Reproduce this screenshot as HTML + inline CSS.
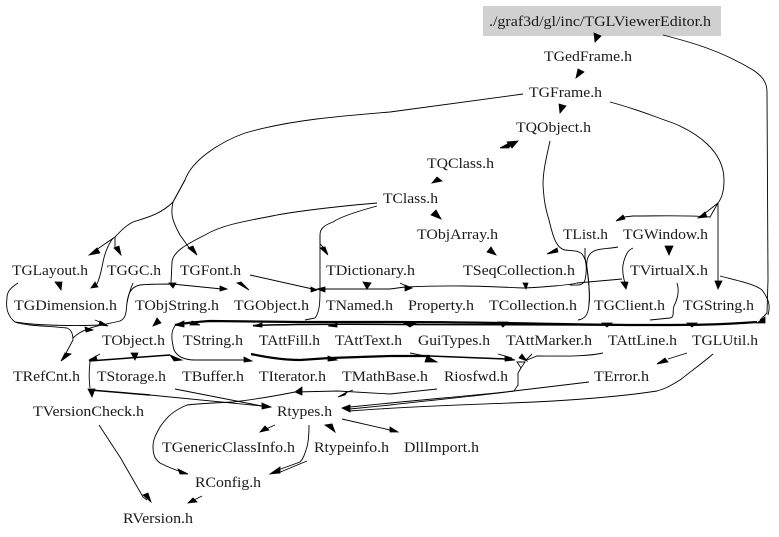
<!DOCTYPE html>
<html><head><meta charset="utf-8"><style>
html,body{margin:0;padding:0;background:#fff;overflow:hidden}
svg{display:block}
text{font-family:"Liberation Serif",serif;font-size:14.5px;fill:#1a1a1a}
path{fill:none;stroke:#000;stroke-width:.9}
path.t{stroke-width:2.2}
path.m{stroke-width:1.5}
polygon{fill:#000;stroke:#000;stroke-width:.8}
</style></head><body>
<svg width="779" height="537" viewBox="0 0 779 537" xmlns="http://www.w3.org/2000/svg">
<rect width="779" height="537" fill="#fff"/>
<rect x="483" y="6" width="238" height="30" fill="#d0d0d0"/>
<g>
<text x="489" y="26" textLength="222" lengthAdjust="spacingAndGlyphs">./graf3d/gl/inc/TGLViewerEditor.h</text>
<text x="544" y="61" textLength="88" lengthAdjust="spacingAndGlyphs">TGedFrame.h</text>
<text x="529" y="97" textLength="73" lengthAdjust="spacingAndGlyphs">TGFrame.h</text>
<text x="516" y="132" textLength="75" lengthAdjust="spacingAndGlyphs">TQObject.h</text>
<text x="427" y="168" textLength="67" lengthAdjust="spacingAndGlyphs">TQClass.h</text>
<text x="383" y="203" textLength="55" lengthAdjust="spacingAndGlyphs">TClass.h</text>
<text x="417" y="239" textLength="81" lengthAdjust="spacingAndGlyphs">TObjArray.h</text>
<text x="563" y="239" textLength="45" lengthAdjust="spacingAndGlyphs">TList.h</text>
<text x="623" y="239" textLength="85" lengthAdjust="spacingAndGlyphs">TGWindow.h</text>
<text x="12" y="275" textLength="76" lengthAdjust="spacingAndGlyphs">TGLayout.h</text>
<text x="107" y="275" textLength="54" lengthAdjust="spacingAndGlyphs">TGGC.h</text>
<text x="180" y="275" textLength="61" lengthAdjust="spacingAndGlyphs">TGFont.h</text>
<text x="326" y="275" textLength="89" lengthAdjust="spacingAndGlyphs">TDictionary.h</text>
<text x="463" y="275" textLength="112" lengthAdjust="spacingAndGlyphs">TSeqCollection.h</text>
<text x="630" y="275" textLength="78" lengthAdjust="spacingAndGlyphs">TVirtualX.h</text>
<text x="14" y="310" textLength="103" lengthAdjust="spacingAndGlyphs">TGDimension.h</text>
<text x="135" y="310" textLength="84" lengthAdjust="spacingAndGlyphs">TObjString.h</text>
<text x="234" y="310" textLength="75" lengthAdjust="spacingAndGlyphs">TGObject.h</text>
<text x="326" y="310" textLength="67" lengthAdjust="spacingAndGlyphs">TNamed.h</text>
<text x="408" y="310" textLength="66" lengthAdjust="spacingAndGlyphs">Property.h</text>
<text x="489" y="310" textLength="88" lengthAdjust="spacingAndGlyphs">TCollection.h</text>
<text x="594" y="310" textLength="71" lengthAdjust="spacingAndGlyphs">TGClient.h</text>
<text x="683" y="310" textLength="71" lengthAdjust="spacingAndGlyphs">TGString.h</text>
<text x="102" y="345" textLength="63" lengthAdjust="spacingAndGlyphs">TObject.h</text>
<text x="183" y="345" textLength="60" lengthAdjust="spacingAndGlyphs">TString.h</text>
<text x="259" y="345" textLength="61" lengthAdjust="spacingAndGlyphs">TAttFill.h</text>
<text x="335" y="345" textLength="67" lengthAdjust="spacingAndGlyphs">TAttText.h</text>
<text x="418" y="345" textLength="72" lengthAdjust="spacingAndGlyphs">GuiTypes.h</text>
<text x="506" y="345" textLength="86" lengthAdjust="spacingAndGlyphs">TAttMarker.h</text>
<text x="608" y="345" textLength="69" lengthAdjust="spacingAndGlyphs">TAttLine.h</text>
<text x="692" y="345" textLength="66" lengthAdjust="spacingAndGlyphs">TGLUtil.h</text>
<text x="13" y="381" textLength="67" lengthAdjust="spacingAndGlyphs">TRefCnt.h</text>
<text x="97" y="381" textLength="69" lengthAdjust="spacingAndGlyphs">TStorage.h</text>
<text x="182" y="381" textLength="62" lengthAdjust="spacingAndGlyphs">TBuffer.h</text>
<text x="259" y="381" textLength="67" lengthAdjust="spacingAndGlyphs">TIterator.h</text>
<text x="342" y="381" textLength="86" lengthAdjust="spacingAndGlyphs">TMathBase.h</text>
<text x="444" y="381" textLength="64" lengthAdjust="spacingAndGlyphs">Riosfwd.h</text>
<text x="594" y="381" textLength="55" lengthAdjust="spacingAndGlyphs">TError.h</text>
<text x="33" y="416" textLength="111" lengthAdjust="spacingAndGlyphs">TVersionCheck.h</text>
<text x="277" y="416" textLength="55" lengthAdjust="spacingAndGlyphs">Rtypes.h</text>
<text x="162" y="452" textLength="133" lengthAdjust="spacingAndGlyphs">TGenericClassInfo.h</text>
<text x="314" y="452" textLength="75" lengthAdjust="spacingAndGlyphs">Rtypeinfo.h</text>
<text x="404" y="452" textLength="75" lengthAdjust="spacingAndGlyphs">DllImport.h</text>
<text x="195" y="487" textLength="66" lengthAdjust="spacingAndGlyphs">RConfig.h</text>
<text x="123" y="523" textLength="70" lengthAdjust="spacingAndGlyphs">RVersion.h</text>
</g>
<!-- upper edges -->
<path d="M663 35C690 42 720 50 753 70C762 76 767 82 767 92L768 280L767 313L760 320"/>
<path d="M523 94L390 112C340 116 290 120 245 133C220 142 192 160 185 180L173 202C170 215 173 222 180 235L190 249"/>
<path d="M185 180L173 202C160 215 145 218 133 222C125 226 120 232 115 237L96 250"/>
<path d="M115 237L115 248"/>
<path d="M113 238C108 245 105 252 103 262C101 272 100 277 97 284"/>
<path d="M610 102C640 110 655 117 673 123C695 132 724 150 724 180C724 190 722 198 718 203L704 214"/>
<path d="M718 203L710 217C690 215 660 216 633 216L624 217"/>
<path d="M718 203L718 281"/>
<path d="M550 141C547 155 543 170 543 185C544 200 545 207 549 220C552 232 555 248 565 250C572 251 578 250 582 254C587 260 587 270 585 280C583 286 578 285 570 285"/>
<path d="M618 247C608 249 600 248 594 251C588 254 586 260 587 268C589 285 590 295 589 305C588 315 585 319 578 320"/>
<path d="M585 248L585 258C589 275 590 295 589 305"/>
<path d="M633 248C628 250 625 255 623 265C622 272 624 280 625 283"/>
<path d="M720 276C735 280 755 284 762 290C768 298 771 305 768 315"/>
<path d="M677 283C680 292 677 300 674 306C672 312 675 317 670 318L650 320"/>
<path d="M377 203C320 208 290 212 267 217C240 222 220 226 205 235C185 245 173 252 172 262L171 283"/>
<path d="M377 206C355 212 340 217 333 222C325 225 320 228 320 235L320 244L326 250"/>
<path d="M320 235C320 260 320 280 320 290C320 300 320 312 315 318L305 320"/>
<path d="M250 275L317 290"/>
<path d="M320 289L390 289"/>
<path d="M18 283C10 288 7 292 7 298C6 305 6 315 15 322C25 326 50 326 67 328C72 330 73 336 73 340L66 353"/>
<path d="M15 322C40 326 80 326 100 325"/>
<path d="M95 320L102 323"/>
<path d="M133 283C130 290 128 297 127 303C126 310 127 318 120 321C105 325 85 326 73 338"/>
<path d="M127 303C128 295 130 287 140 285C150 284 160 284 172 284L222 289"/>
<path d="M405 287C450 285 480 286 523 288C545 287 570 285 577 283L622 279"/>
<path d="M390 289L405 287"/>
<path d="M400 283L408 287"/>
<!-- thick bus -->
<path class="t" d="M757 322C720 325 690 325 640 325C570 325 500 322 390 322L300 322L210 321C195 322 185 323 175 325"/>
<path class="m" d="M253 325.5C300 324 340 324 400 324.5C480 325 600 325 700 325"/>
<path d="M175 326C170 332 172 342 174 350C177 356 183 360 195 360L245 360"/>
<!-- lower bus -->
<path class="t" d="M251 354C265 357 285 360 300 360L330 358L390 356L430 356"/>
<path class="m" d="M430 356L506 359"/>
<path d="M410 353L430 357"/>
<path d="M498 354L512 358"/>
<path d="M603 353C585 357 560 356 537 356L527 360"/>
<path d="M532 354L526 360"/>
<path d="M517 362L525 362L521 368Z" style="fill:#fff"/>
<path d="M521 368L518 373L518 385L514 391C480 395 430 399 390 403L350 407"/>
<path d="M589 382L514 391C480 396 430 400 390 405L350 409"/>
<path d="M713 354C700 365 690 372 680 380C670 386 665 389 657 391C625 396 570 401 510 403C460 405 400 407 350 411"/>
<path d="M687 353L668 359"/>
<path d="M437 389L390 394L338 391L295 392C270 397 250 400 233 402C210 403 195 404 187 405C170 412 165 420 160 427C155 436 153 440 153 447C153 456 156 460 160 463C168 467 175 470 182 472"/>
<path d="M100 354L89 360"/>
<path class="m" d="M89 361L170 355"/>
<path d="M90 362C89 370 89 380 90 388"/>
<path class="m" d="M90 390L150 395"/>
<path d="M150 395L262 406"/>
<path d="M175 389L262 406"/>
<path d="M342 419L390 430L392 430"/>
<path d="M99 425L120 457L143 497L147 500"/>
<path d="M275 425L266 429"/>
<path d="M309 425C309 435 308 445 306 450C304 456 303 459 300 462L278 470"/>
<path d="M307 461L278 473"/>
<path d="M202 496L194 500"/>
<path d="M353 390L345 393"/>
<!-- arrowheads -->
<polygon points="595,42 594,33 601,36"/>
<polygon points="576,78 578,69 584,72"/>
<polygon points="560,113 559,104 566,106"/>
<polygon points="500,148 511,142 509,148"/>
<polygon points="518,141 507,142 512,148"/>
<polygon points="432,183 437,177 442,181"/>
<polygon points="441,219 431,215 436,210"/>
<polygon points="496,255 487,252 491,247"/>
<polygon points="547,254 557,248 558,252"/>
<polygon points="698,218 705,212 707,217"/>
<polygon points="616,221 623,215 625,219"/>
<polygon points="718,289 715,281 722,281"/>
<polygon points="669,255 665,246 673,246"/>
<polygon points="626,289 621,282 628,282"/>
<polygon points="89,255 97,248 100,253"/>
<polygon points="121,255 114,248 119,246"/>
<polygon points="91,288 95,282 98,287"/>
<polygon points="197,255 188,248 193,246"/>
<polygon points="55,282 62,282 61,290"/>
<polygon points="328,255 320,248 325,247"/>
<polygon points="173,288 169,283 176,283"/>
<polygon points="227,289 220,286 220,291"/>
<polygon points="249,290 237,283 241,282"/>
<polygon points="317,290 311,287 311,292"/>
<polygon points="317,289 325,287 325,292"/>
<polygon points="363,282 371,283 367,289"/>
<polygon points="412,288 405,285 405,291"/>
<polygon points="523,283 528,283 526,289"/>
<polygon points="108,326 100,321 99,325"/>
<polygon points="93,330 85,327 86,332"/>
<polygon points="757,323 765,317 765,323"/>
<polygon points="153,326 157,318 161,323"/>
<polygon points="175,325 184,321 184,327"/>
<polygon points="192,321 200,325 190,325"/>
<polygon points="253,326 262,323 262,327"/>
<polygon points="328,326 337,323 337,327"/>
<polygon points="402,322 418,322 410,327"/>
<polygon points="498,322 508,322 503,327"/>
<polygon points="602,323 612,323 607,327"/>
<polygon points="687,323 697,323 692,327"/>
<polygon points="89,361 96,356 97,360"/>
<polygon points="131,353 138,353 135,360"/>
<polygon points="170,355 182,360 174,361"/>
<polygon points="252,361 244,357 244,362"/>
<polygon points="337,360 328,356 328,361"/>
<polygon points="427,356 437,362 425,362"/>
<polygon points="515,360 505,356 505,361"/>
<polygon points="527,361 519,358 522,354"/>
<polygon points="61,361 65,353 71,354"/>
<polygon points="657,364 665,358 668,362"/>
<polygon points="92,397 88,389 95,389"/>
<polygon points="271,407 262,403 262,409"/>
<polygon points="295,392 302,387 302,395"/>
<polygon points="338,397 347,392 345,395"/>
<polygon points="342,408 350,405 350,412"/>
<polygon points="188,474 178,469 180,474"/>
<polygon points="260,432 265,426 269,430"/>
<polygon points="325,425 332,424 335,432"/>
<polygon points="398,432 390,427 390,432"/>
<polygon points="270,474 280,467 280,473"/>
<polygon points="151,502 143,495 148,493"/>
<polygon points="188,503 193,498 197,502"/>
</svg>
</body></html>
